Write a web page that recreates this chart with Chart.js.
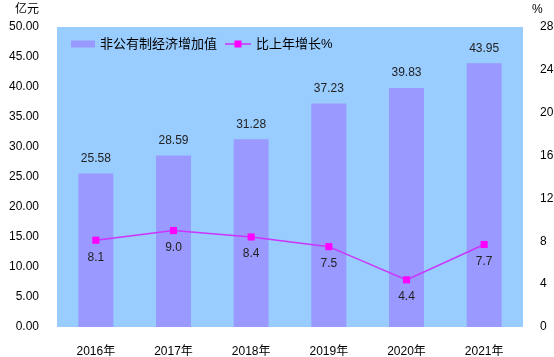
<!DOCTYPE html>
<html>
<head>
<meta charset="utf-8">
<script src="https://cdn.jsdelivr.net/npm/chart.js@4"></script>
<style>
html,body{margin:0;padding:0;background:#fff;}
#wrap{width:554px;height:357px;position:relative;}
</style>
</head>
<body>
<div id="wrap"><canvas id="c" width="554" height="357"></canvas></div>
<script>
const categories = ["2016年","2017年","2018年","2019年","2020年","2021年"];
const valueAdded = [25.58, 28.59, 31.28, 37.23, 39.83, 43.95];
const growthRate = [8.1, 9.0, 8.4, 7.5, 4.4, 7.7];
const barLabel = "非公有制经济增加值";
const lineLabel = "比上年增长%";
const leftUnit = "亿元";
const rightUnit = "%";

const FONT = '"Liberation Sans", "Noto Sans CJK SC", sans-serif';

const bgPlugin = {
  id: 'bg',
  beforeDraw(chart) {
    const {ctx, chartArea: a} = chart;
    ctx.save();
    ctx.fillStyle = '#99CCFF';
    ctx.fillRect(a.left, a.top, a.right - a.left, a.bottom - a.top);
    ctx.restore();
  }
};

const labelPlugin = {
  id: 'labels',
  afterDatasetsDraw(chart) {
    const ctx = chart.ctx;
    ctx.save();
    ctx.font = '12px ' + FONT;
    ctx.fillStyle = '#222';
    ctx.textAlign = 'center';
    const barMeta = chart.getDatasetMeta(0);
    barMeta.data.forEach((el, i) => {
      ctx.textBaseline = 'bottom';
      ctx.fillText(valueAdded[i].toFixed(2), el.x, el.y - 9);
    });
    const lineMeta = chart.getDatasetMeta(1);
    lineMeta.data.forEach((el, i) => {
      ctx.textBaseline = 'middle';
      ctx.fillText(growthRate[i].toFixed(1), el.x, el.y + 17);
    });
    // units
    ctx.textBaseline = 'middle';
    ctx.textAlign = 'left';
    ctx.fillStyle = '#000';
    ctx.fillText(leftUnit, 15, 10);
    ctx.fillText(rightUnit, 532, 10);
    // legend
    const ly = 44;
    ctx.fillStyle = '#9999FF';
    ctx.fillRect(71, ly - 3.5, 24, 7);
    ctx.font = '13px ' + FONT;
    ctx.fillStyle = '#000';
    ctx.fillText(barLabel, 100, ly);
    ctx.strokeStyle = '#CC33FF';
    ctx.lineWidth = 1.5;
    ctx.beginPath();
    ctx.moveTo(225, ly);
    ctx.lineTo(251, ly);
    ctx.stroke();
    ctx.fillStyle = '#FF00FF';
    ctx.fillRect(234.5, ly - 3.5, 7, 7);
    ctx.fillStyle = '#000';
    ctx.fillText(lineLabel, 256, ly);
    ctx.restore();
  }
};

new Chart(document.getElementById('c'), {
  data: {
    labels: categories,
    datasets: [
      {
        type: 'bar',
        label: barLabel,
        data: valueAdded,
        backgroundColor: '#9999FF',
        borderWidth: 0,
        categoryPercentage: 1,
        barPercentage: 0.45,
        yAxisID: 'y',
        order: 2
      },
      {
        type: 'line',
        label: lineLabel,
        data: growthRate,
        borderColor: '#CC33FF',
        borderWidth: 1.5,
        pointStyle: 'rect',
        pointRadius: 5,
        pointBackgroundColor: '#FF00FF',
        pointBorderColor: '#FF00FF',
        pointBorderWidth: 0,
        tension: 0,
        yAxisID: 'y1',
        order: 1
      }
    ]
  },
  options: {
    responsive: false,
    animation: false,
    devicePixelRatio: 1,
    layout: { padding: { top: 27, left: 0, right: 0, bottom: 0 } },
    plugins: { legend: { display: false }, tooltip: { enabled: false } },
    scales: {
      x: {
        grid: { display: false },
        border: { display: false },
        ticks: { color: '#000', font: { size: 12, family: FONT }, padding: 9 },
        afterFit(s) { s.height = 30; }
      },
      y: {
        position: 'left',
        min: 0, max: 50,
        grid: { display: false },
        border: { display: false },
        ticks: { stepSize: 5, color: '#000', font: { size: 12, family: FONT }, padding: 10,
          callback: v => Number(v).toFixed(2) },
        afterFit(s) { s.width = 57; }
      },
      y1: {
        position: 'right',
        min: 0, max: 28,
        grid: { display: false },
        border: { display: false },
        ticks: { stepSize: 4, color: '#000', font: { size: 12, family: FONT }, padding: 9 },
        afterFit(s) { s.width = 31; }
      }
    }
  },
  plugins: [bgPlugin, labelPlugin]
});
</script>
</body>
</html>
